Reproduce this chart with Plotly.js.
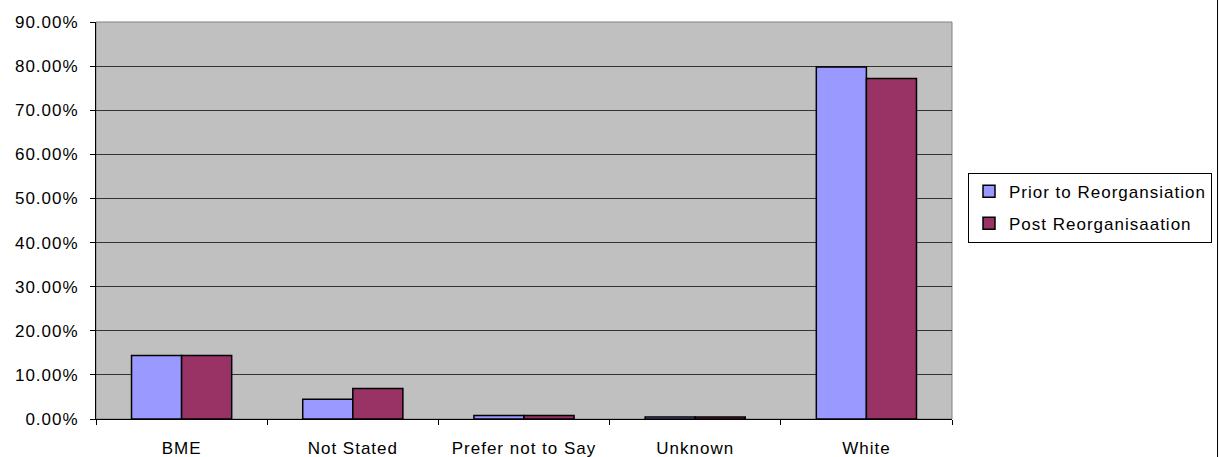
<!DOCTYPE html>
<html>
<head>
<meta charset="utf-8">
<script src="https://cdn.plot.ly/plotly-3.0.1.min.js"></script>
<style>
html,body{margin:0;padding:0;background:#fff;}
#chart{width:1219px;height:457px;}
svg text{letter-spacing:1px;}
</style>
</head>
<body>
<div id="chart"></div>
<script>
const categories = ["BME", "Not Stated", "Prefer not to Say", "Unknown", "White"];
const priorValues = [0.144, 0.045, 0.008, 0.0045, 0.798];
const postValues = [0.144, 0.069, 0.008, 0.0045, 0.772];
const seriesNames = ["Prior to Reorgansiation", "Post Reorganisaation"];
const yTickVals = [0, 0.1, 0.2, 0.3, 0.4, 0.5, 0.6, 0.7, 0.8, 0.9];
const yTickText = ["0.00%", "10.00%", "20.00%", "30.00%", "40.00%", "50.00%", "60.00%", "70.00%", "80.00%", "90.00%"];

const font = {family: "Liberation Sans, Arial, sans-serif", size: 17, color: "#000"};

const traces = [
  {type: "bar", name: seriesNames[0], x: categories, y: priorValues, legendgroup: "a",
   marker: {color: "#9999FF", line: {color: "#000", width: 1.5}}, hoverinfo: "x+y"},
  {type: "bar", name: seriesNames[1], x: categories, y: postValues, legendgroup: "b",
   marker: {color: "#993366", line: {color: "#000", width: 1.5}}, hoverinfo: "x+y"}
];

const layout = {
  width: 1219, height: 457,
  margin: {l: 96, r: 267, t: 22, b: 38, autoexpand: false},
  paper_bgcolor: "#fff",
  plot_bgcolor: "#C0C0C0",
  font: font,
  barmode: "group",
  bargap: 0.415,
  bargroupgap: 0,
  showlegend: true,
  legend: {
    xref: "container", yref: "container",
    x: 968 / 1219, xanchor: "left", y: 1 - 172.7 / 457, yanchor: "top",
    bgcolor: "#fff", bordercolor: "#000", borderwidth: 1,
    font: font, tracegroupgap: 7, traceorder: "grouped"
  },
  xaxis: {
    type: "category",
    showline: true, linecolor: "#000", linewidth: 1,
    ticks: "outside", tickson: "boundaries", ticklen: 5, tickcolor: "#000",
    showgrid: false, zeroline: false,
    tickfont: font, ticklabelstandoff: 14
  },
  yaxis: {
    range: [0, 0.9],
    tickvals: yTickVals, ticktext: yTickText,
    showline: true, linecolor: "#000", linewidth: 1,
    ticks: "outside", ticklen: 5, tickcolor: "#000",
    showgrid: true, gridcolor: "#333", gridwidth: 1,
    zeroline: false, tickfont: font, ticklabelstandoff: 8
  },
  shapes: [
    {type: "rect", xref: "paper", yref: "paper", x0: 0, x1: 1, y0: 0, y1: 1,
     line: {color: "#808080", width: 1}, layer: "below"},
    {type: "line", xref: "paper", yref: "paper", x0: 1.3102, x1: 1.3102, y0: -0.2, y1: 1.2,
     line: {color: "#000", width: 1}}
  ]
};

Plotly.newPlot("chart", traces, layout, {displayModeBar: false, staticPlot: true});
</script>
</body>
</html>
